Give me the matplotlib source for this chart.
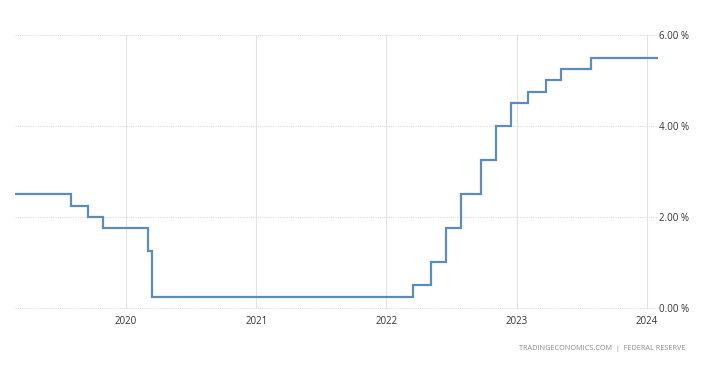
import matplotlib
matplotlib.use("Agg")
import matplotlib.pyplot as plt
import pandas as pd

# Federal funds rate (upper bound), step changes
change_dates = ["2019-02-25", "2019-08-01", "2019-09-19", "2019-10-31", "2020-03-04",
                "2020-03-16", "2022-03-17", "2022-05-05", "2022-06-16", "2022-07-28",
                "2022-09-22", "2022-11-03", "2022-12-15", "2023-02-02", "2023-03-23",
                "2023-05-04", "2023-07-27", "2024-01-29"]
rates = [2.50, 2.25, 2.00, 1.75, 1.25, 0.25, 0.50, 1.00, 1.75, 2.50, 3.25, 4.00,
         4.50, 4.75, 5.00, 5.25, 5.50, 5.50]
y_ticks = [0, 2, 4, 6]
y_tick_labels = ["0.00 %", "2.00 %", "4.00 %", "6.00 %"]
x_years = ["2020", "2021", "2022", "2023", "2024"]
source_text = "TRADINGECONOMICS.COM  |  FEDERAL RESERVE"

plt.rcParams['font.family'] = ['Open Sans', 'DejaVu Sans']

dates = pd.to_datetime(change_dates)

fig = plt.figure(figsize=(7.1, 3.7), dpi=100)
ax = fig.add_axes([0.0211, 0.1676, 0.9057, 0.7378])

ax.plot(dates, rates, drawstyle="steps-post", color="#5B8DB8", linewidth=1.6,
        solid_joinstyle="miter", zorder=3)

ax.set_xlim(dates[0], pd.Timestamp("2024-02-01"))
ax.set_ylim(0, 6)

ax.set_xticks(pd.to_datetime([y + "-01-01" for y in x_years]))
ax.set_xticklabels(x_years)
ax.set_yticks(y_ticks)
ax.set_yticklabels(y_tick_labels)
ax.yaxis.tick_right()

ax.tick_params(axis="both", length=0, labelsize=7, colors="#333333")
ax.tick_params(axis="x", pad=6)
ax.tick_params(axis="y", pad=1)

for s in ax.spines.values():
    s.set_visible(False)

ax.grid(axis="y", color="#DDDDDD", linewidth=0.8, linestyle=(0, (1, 1)))
ax.grid(axis="x", color="#E3E3E3", linewidth=0.8)
for gl in ax.get_xgridlines() + ax.get_ygridlines():
    gl.set_clip_on(False)
ax.set_axisbelow(True)

fig.text(0.965, 0.059, source_text, ha="right", va="center", fontsize=5.2,
         color="#8A8A8A")

fig.savefig("out.png", dpi=100)
